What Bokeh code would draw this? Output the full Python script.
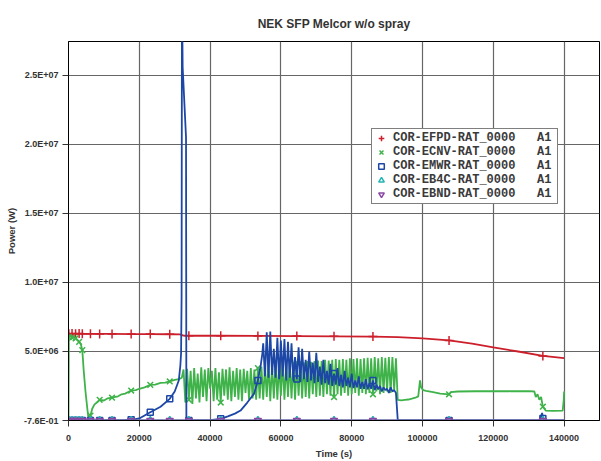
import numpy as np
from bokeh.plotting import figure
from bokeh.models import (Range1d, FixedTicker, CustomJSTickFormatter,
                          NumeralTickFormatter, Legend, LegendItem)
from bokeh.embed import file_html
from bokeh.resources import INLINE

title_text = "NEK SFP Melcor w/o spray"
x_label = "Time (s)"
y_label = "Power (W)"
x_ticks = [0, 20000, 40000, 60000, 80000, 100000, 120000, 140000]
y_ticks = [-0.76, 5.0e6, 1.0e7, 1.5e7, 2.0e7, 2.5e7]
legend_names = ["COR-EFPD-RAT_0000", "COR-ECNV-RAT_0000", "COR-EMWR-RAT_0000",
                "COR-EB4C-RAT_0000", "COR-EBND-RAT_0000"]
legend_suffix = "A1"

# times at which the plotting program put symbols (s)
marker_times = [100, 1000, 2000, 3000, 3900, 6200, 8800, 12300, 17700, 23100, 28600,
                34000, 43000, 53500, 64500, 75000, 86000, 107500, 134000]

# EFPD (MW)
efpd_t = [0, 100, 1000, 2000, 3000, 3900, 6200, 8800, 12300, 17700, 23100, 28600,
          31500, 32500, 34000, 43000, 53500, 64500, 75000, 86000, 93000, 100000,
          107500, 114000, 120000, 127000, 134000, 140000]
efpd_mw = [6.28, 6.28, 6.30, 6.28, 6.30, 6.28, 6.28, 6.27, 6.27, 6.26, 6.26, 6.25,
           6.24, 6.15, 6.14, 6.14, 6.13, 6.12, 6.10, 6.08, 6.04, 5.95,
           5.80, 5.57, 5.30, 5.00, 4.68, 4.52]

# ECNV (MW)
ecnv_t = [0, 100, 500, 1000, 1500, 2000, 2500, 3000, 3500, 3900, 4300, 4800, 5300, 5700,
          6200, 6700, 7300, 8000, 8800, 10000, 11000, 12300, 14000, 15000, 16000, 17700,
          19000, 20000, 21500, 23100, 24500, 26000, 27300, 28600, 30000, 31200, 32000, 32500,
          33000, 33500, 34000, 34500, 35000, 35500, 36000, 36500, 37000, 37500, 38000, 38500,
          39000, 39500, 40000, 40500, 41000, 41500, 42000, 42500, 43000, 43500, 44000, 44500,
          45000, 45500, 46000, 46500, 47000, 47500, 48000, 48500, 49000, 49500, 50000, 50500,
          51000, 51500, 52000, 52500, 53000, 53500, 54000, 54500,
          55000, 55500, 56000, 56500, 57000, 57500, 58000, 58500, 59000, 59500, 60000, 60500,
          61000, 61500, 62000, 62500, 63000, 63500, 64000, 64500, 65000, 65500, 66000, 66500,
          67000, 67500, 68000, 68500, 69000, 69500, 70000, 70500, 71000, 71500, 72000, 72500,
          73000, 73500, 74000, 74500, 75000, 75500, 76000, 76500, 77000, 77500, 78000, 78500,
          79000, 79500, 80000, 80500, 81000, 81500, 82000, 82500, 83000, 83500, 84000, 84500,
          85000, 85500, 86000, 86500, 87000, 87500, 88000, 88500, 89000, 89500, 90000, 90500,
          91000, 91500, 92000, 92500, 93000,
          94000, 95000, 96000, 97000, 98000, 98800, 99300, 99600, 100200, 101000, 103000,
          105000, 107500, 108000, 110000, 115000, 120000, 125000, 130000, 131600, 132000,
          132500, 133000, 133500, 134000, 134800, 137000, 139600, 139900, 140000]
ecnv_mw = [0.0, 6.05, 6.15, 6.0, 6.1, 5.95, 5.85, 5.7, 5.5, 5.1, 3.6, 2.1, 0.9, 0.0,
           0.35, 0.85, 1.15, 1.3, 1.5, 1.45, 1.6, 1.65, 1.75, 1.9, 1.95, 2.17,
           2.2, 2.3, 2.4, 2.58, 2.6, 2.72, 2.75, 2.83, 2.95, 3.0, 3.1, 3.7,
           1.3, 3.75, 1.5, 3.6, 1.2, 3.8, 1.6, 3.4, 1.3, 3.85, 1.7, 3.7,
           1.4, 3.8, 2.3, 3.6, 1.4, 3.8, 1.5, 3.5, 1.3, 3.75, 1.8, 3.7,
           1.5, 3.85, 1.4, 3.6, 1.7, 3.8, 1.5, 3.7, 1.4, 3.75, 2.0, 3.6,
           1.5, 3.8, 1.6, 3.7, 1.5, 3.8, 1.6, 3.9,
           1.5, 4.0, 1.7, 4.1, 1.4, 4.0, 1.6, 4.2, 1.5, 4.1, 1.8, 4.2,
           1.5, 4.15, 1.7, 4.2, 1.6, 4.25, 1.5, 4.2, 1.8, 4.3, 1.6, 4.2,
           1.7, 4.3, 1.6, 4.25, 1.9, 4.3, 1.7, 4.35, 1.8, 4.3, 1.7, 4.4,
           1.9, 4.35, 1.8, 4.4, 1.7, 4.45, 1.9, 4.4, 1.8, 4.45, 2.0, 4.4,
           1.8, 4.5, 1.9, 4.45, 2.0, 4.5, 1.8, 4.45, 2.0, 4.5, 1.9, 4.55,
           2.0, 4.5, 1.9, 4.6, 2.1, 4.5, 1.9, 4.6, 2.0, 4.55, 2.1, 4.6,
           2.0, 4.6, 2.2, 4.5, 1.5,
           1.45, 1.5, 1.52, 1.58, 1.65, 1.75, 2.9, 2.4, 2.2, 2.15, 2.05,
           1.95, 1.9, 2.05, 2.1, 2.12, 2.13, 2.12, 2.13, 2.1, 1.7,
           1.9, 1.5, 1.7, 1.0, 0.72, 0.7, 0.72, 1.5, 2.1]

# EMWR (MW)
emwr_t = [0, 100, 1000, 2000, 3000, 3900, 6200, 8800, 12300, 15000, 17700, 20000, 23100,
          26000, 28600, 30000, 31150, 31600, 31800, 31950, 32050, 32250, 33200, 33300,
          34000, 38000, 40000, 43000, 45000, 47000, 48600, 50500, 52400, 53500, 54300, 54750,
          55000, 55500, 56000, 56500, 57000, 57500, 58000, 58500, 59000, 59500, 60000, 60500,
          61000, 61500, 62000, 62500, 63000, 63500, 64000, 64500, 65000, 65500, 66000, 66500,
          67000, 67500, 68000, 68500, 69000, 69500, 70000, 70500, 71000, 71500, 72000, 72500,
          73000, 73500, 74000, 74500, 75000, 75500, 76000, 76500, 77000, 77500, 78000, 78500,
          79000, 79500, 80000, 80500, 81000, 81500, 82000, 82500, 83000, 83500, 84000, 84500,
          85000, 85500, 86000, 86500, 87000, 87500, 88000, 88500, 89000, 89500, 90000, 90500,
          91000, 91500, 92000, 92500,
          93000, 93500, 100000, 107500, 120000, 133000, 133500, 133800, 134000, 134500, 140000]
emwr_mw = [0.0, 0.0, 0.0, 0.0, 0.0, 0.0, 0.0, 0.0, 0.0, 0.01, 0.05, 0.15, 0.6,
           1.0, 1.57, 2.1, 2.9, 4.0, 4.85, 9.0, 31.0, 25.6, 20.5, 0.0,
           0.0, 0.0, 0.03, 0.12, 0.3, 0.5, 0.72, 1.3, 1.93, 2.9, 4.0, 4.83,
           5.6, 3.2, 6.4, 3.1, 6.45, 3.3, 5.2, 3.1, 6.0, 3.0, 5.8, 3.2,
           5.9, 2.9, 5.7, 3.1, 5.6, 2.9, 4.6, 3.0, 5.3, 2.8, 5.2, 3.0,
           4.4, 2.8, 5.0, 2.9, 4.2, 2.7, 4.9, 2.8, 3.9, 2.6, 4.4, 2.7,
           3.6, 2.6, 4.1, 2.5, 3.4, 2.6, 3.8, 2.5, 3.3, 2.4, 3.6, 2.5,
           3.1, 2.4, 3.4, 2.35, 2.9, 2.4, 3.2, 2.3, 2.8, 2.3, 3.0, 2.25,
           2.7, 2.3, 2.9, 2.2, 2.6, 2.25, 2.5, 2.1, 2.4, 2.2, 2.3, 2.0,
           2.4, 2.1, 2.2, 2.0,
           0.05, 0.0, 0.0, 0.0, 0.0, 0.0, 0.3, 0.55, 0.15, 0.0, 0.0]

# EB4C and EBND (MW)
eb4c_t = [0, 100, 1000, 2000, 3000, 3900, 6200, 8800, 12300, 17700, 23100, 28600,
          34000, 43000, 53500, 64500, 75000, 86000, 107500, 134000, 140000]
eb4c_mw = [0.0, 0.0, 0.0, 0.0, 0.0, 0.0, 0.0, 0.0, 0.0, 0.0, 0.0, 0.0,
           0.0, 0.0, 0.0, 0.0, 0.0, 0.0, 0.0, 0.0, 0.0]
ebnd_t = [0, 100, 1000, 2000, 3000, 3900, 6200, 8800, 12300, 17700, 23100, 28600,
          34000, 43000, 53500, 64500, 75000, 86000, 107500, 134000, 140000]
ebnd_mw = [0.0, 0.0, 0.0, 0.0, 0.0, 0.0, 0.0, 0.0, 0.0, 0.0, 0.0, 0.0,
           0.0, 0.0, 0.0, 0.0, 0.0, 0.0, 0.0, 0.0, 0.0]

colors = ["#cc1f2b", "#3fb34a", "#1d47a6", "#25b4b4", "#8a47a3"]
markers = ["cross", "x", "square", "triangle", "inverted_triangle"]
msizes = [9, 8, 6, 7, 7]

p = figure(width=601, height=461, output_backend="svg", toolbar_location=None,
           x_range=Range1d(0, 150000), y_range=Range1d(-0.76, 2.746e7),
           min_border_left=68, min_border_right=2, min_border_top=41, min_border_bottom=40,
           background_fill_color="white", border_fill_color="white")

p.title.text = title_text
p.title.align = "center"
p.title.text_font = "Liberation Sans"
p.title.text_font_size = "12px"
p.title.text_font_style = "bold"
p.title.text_color = "#333333"
p.title.standoff = 21

p.outline_line_color = "black"
p.outline_line_width = 1
p.grid.grid_line_color = "#666666"
p.grid.grid_line_width = 1.2

p.xaxis.ticker = FixedTicker(ticks=x_ticks)
p.xaxis.formatter = NumeralTickFormatter(format="0")
p.yaxis.ticker = FixedTicker(ticks=y_ticks)
p.yaxis.formatter = CustomJSTickFormatter(code="""
const s = tick.toExponential(1).toUpperCase();
const parts = s.split('E');
const sign = parts[1][0];
let d = parts[1].slice(1);
if (d.length < 2) { d = '0' + d; }
return parts[0] + 'E' + sign + d;
""")
p.xaxis.axis_label = x_label
p.yaxis.axis_label = y_label
for ax in (p.xaxis[0], p.yaxis[0]):
    ax.major_tick_out = 6
    ax.major_tick_in = 0
    ax.minor_tick_out = 0
    ax.minor_tick_in = 0
    ax.axis_line_color = "black"
    ax.major_tick_line_color = "#333333"
    ax.major_label_text_font = "Liberation Sans"
    ax.major_label_text_font_size = "9px"
    ax.major_label_text_font_style = "bold"
    ax.major_label_text_color = "#333333"
    ax.axis_label_text_font = "Liberation Sans"
    ax.axis_label_text_font_size = "9.5px"
    ax.axis_label_text_font_style = "bold"
    ax.axis_label_text_color = "#333333"
    ax.major_label_standoff = 4
p.xaxis.major_label_standoff = 8
p.xaxis.axis_label_standoff = 4
p.yaxis.axis_label_standoff = 4

series = [(efpd_t, efpd_mw), (ecnv_t, ecnv_mw), (emwr_t, emwr_mw),
          (eb4c_t, eb4c_mw), (ebnd_t, ebnd_mw)]
draw_order = [0, 1, 2, 3, 4]
scatter_r = {}
for i in draw_order:
    t, v = series[i]
    w = [x * 1e6 for x in v]
    p.line(t, w, line_color=colors[i], line_width=1.8)
    idx = [t.index(m) for m in marker_times]
    mt = [t[k] for k in idx]
    mv = [w[k] for k in idx]
    scatter_r[i] = p.scatter(mt, mv, marker=markers[i], size=msizes[i],
                             line_color=colors[i], fill_color=None, line_width=1.5)

items = [LegendItem(label=legend_names[i] + "\u00a0\u00a0\u00a0" + legend_suffix,
                    renderers=[scatter_r[i]]) for i in range(5)]
legend = Legend(items=items, location=(303, 216), padding=2, spacing=0, margin=0,
                glyph_width=14, glyph_height=14, label_height=14, label_standoff=5,
                label_width=162,
                label_text_font="Liberation Mono", label_text_font_size="12px",
                label_text_font_style="bold", label_text_color="#3a3a3a",
                border_line_color="black", border_line_width=1,
                background_fill_color="white", background_fill_alpha=1.0)
p.add_layout(legend)

open("out.html", "w").write(file_html(p, INLINE))
